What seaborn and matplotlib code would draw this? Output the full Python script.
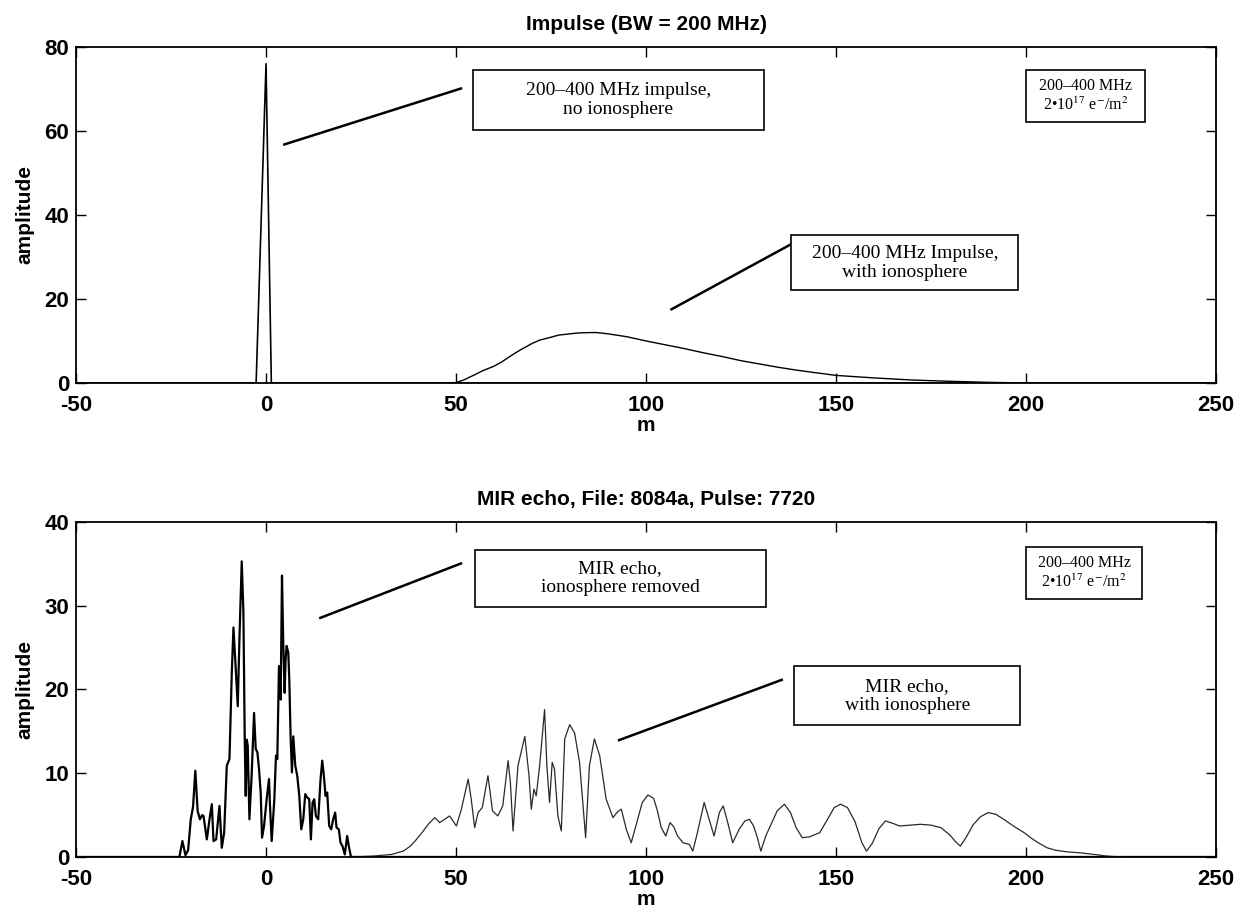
import matplotlib
matplotlib.use("Agg")
import matplotlib.pyplot as plt
import seaborn as sns
from matplotlib.patches import Rectangle

# ---- upper panel: synthetic 200-400 MHz impulse ----
impulse_m = [-50, -2.6, 0, 1.4, 250]
impulse_amp = [0, 0, 76, 0, 0]

iono_m = [48, 50, 52, 55, 57, 60, 62, 65, 67, 70, 72, 75, 77, 80, 82, 85, 87,
          90, 95, 100, 105, 110, 115, 120, 125, 130, 135, 140, 145, 150, 160,
          170, 180, 190, 200, 205]
iono_amp = [0, 0.1, 0.7, 2.0, 2.9, 4.0, 5.0, 6.8, 7.9, 9.4, 10.2, 10.9, 11.4,
            11.7, 11.9, 12.0, 12.0, 11.7, 11.0, 10.0, 9.1, 8.2, 7.2, 6.3, 5.3,
            4.5, 3.7, 3.0, 2.4, 1.8, 1.2, 0.7, 0.4, 0.15, 0, 0]

# ---- lower panel: MIR echo ----
removed_m = [-50, -22.8, -22.0, -21.2, -20.5, -19.8, -19.2, -18.6, -18.0, -17.4,
             -16.8, -16.45, -15.57, -14.87, -14.26, -13.82, -13.12, -12.25,
             -11.64, -11.02, -10.32, -9.62, -9.01, -8.57, -7.96, -7.44, -7.0,
             -6.39, -5.95, -5.60, -5.34, -5.07, -4.81, -4.37, -3.76, -3.15,
             -2.71, -2.27, -1.84, -1.40, -1.05, -0.52, 0.17, 0.79, 1.05, 1.49,
             2.19, 2.62, 2.97, 3.41, 3.85, 4.20, 4.55, 4.90, 5.16, 5.42, 5.86,
             6.12, 6.47, 6.82, 7.17, 7.70, 8.22, 8.75, 9.27, 9.80, 10.32, 10.85,
             11.37, 11.81, 12.25, 12.69, 13.12, 13.74, 14.35, 14.79, 15.22,
             15.66, 16.10, 16.62, 17.15, 17.67, 18.20, 18.55, 19.16, 19.60,
             20.12, 20.73, 21.35, 21.78, 22.31, 22.66, 250]
removed_amp = [0, 0, 1.9, 0.2, 0.8, 4.5, 6.0, 10.3, 5.5, 4.5,
               5.0, 4.9, 2.1, 4.5, 6.3, 1.9, 2.1, 6.1,
               1.1, 2.9, 10.9, 11.7, 22.0, 27.4, 22.4, 18.0, 26.0,
               35.3, 29.2, 14.0, 7.3, 14.0, 13.3, 4.5, 10.0, 17.2,
               12.9, 12.5, 10.5, 7.7, 2.3, 3.7, 6.9, 9.3, 6.1, 1.9,
               6.9, 12.1, 11.7, 22.8, 18.8, 33.6, 25.2, 19.6, 23.6, 25.2, 24.4,
               21.2, 14.4, 10.1, 14.4, 10.9, 9.7, 7.3, 3.3, 4.5, 7.5, 7.1,
               6.9, 2.1, 6.5, 6.9, 4.9, 4.5, 9.3, 11.5, 9.7,
               7.3, 7.7, 3.7, 3.3, 4.5, 5.3, 3.5, 3.3, 1.7,
               1.3, 0.3, 2.5, 1.3, 0.1, 0, 0]

echo_m = [22.7, 28.0, 33.0, 36.1, 38.0, 39.6, 41.2, 42.7, 44.4, 45.7, 47.0,
          48.3, 50.1, 51.4, 53.2, 54.0, 54.9, 55.8, 56.9, 58.4, 59.6, 61.0,
          62.3, 63.7, 64.3, 65.0, 66.3, 68.1, 69.2, 69.8, 70.5, 71.1, 72.0,
          73.3, 73.9, 74.6, 75.3, 75.9, 76.8, 77.7, 78.6, 79.9, 81.2, 82.5,
          84.1, 85.1, 86.4, 87.8, 89.5, 91.3, 92.5, 93.5, 94.8, 96.1, 97.5,
          99.0, 100.5, 102.0, 103.0, 104.0, 105.2, 106.3, 107.3, 108.3, 109.7,
          111.4, 112.3, 113.3, 114.3, 115.3, 116.6, 117.9, 119.3, 120.3,
          121.5, 122.8, 124.5, 126.0, 127.2, 128.3, 129.3, 130.2, 131.5,
          133.0, 134.5, 136.4, 138.0, 139.5, 141.1, 143.0, 145.7, 147.5,
          149.5, 151.2, 153.0, 155.0, 156.8, 158.0, 159.5, 161.3, 163.0,
          165.0, 166.7, 169.5, 172.2, 175.0, 177.6, 180.0, 181.5, 182.7,
          184.3, 186.0, 188.0, 190.0, 192.0, 194.1, 197.0, 199.5, 201.5,
          203.2, 205.5, 207.8, 211.0, 214.1, 218.0, 221.4, 225.0]
echo_amp = [0, 0.1, 0.3, 0.7, 1.3, 2.1, 3.0, 3.9, 4.7, 4.1, 4.5,
            4.9, 3.7, 5.7, 9.3, 6.9, 3.5, 5.3, 5.9, 9.7, 5.5, 4.9,
            6.1, 11.5, 8.9, 3.1, 10.9, 14.4, 9.7, 5.7, 8.1, 7.3, 10.9,
            17.6, 10.9, 6.5, 11.3, 10.5, 4.9, 3.1, 14.1, 15.8, 14.8, 11.3,
            2.3, 10.9, 14.1, 12.1, 6.9, 4.7, 5.4, 5.7, 3.3, 1.7, 4.0,
            6.5, 7.4, 7.0, 5.5, 3.5, 2.5, 4.1, 3.6, 2.5, 1.7,
            1.5, 0.7, 2.5, 4.5, 6.5, 4.5, 2.5, 5.3, 6.1,
            4.1, 1.7, 3.3, 4.3, 4.5, 3.7, 2.3, 0.7, 2.5,
            4.0, 5.5, 6.3, 5.3, 3.5, 2.3, 2.4, 2.9, 4.3,
            5.9, 6.3, 5.9, 4.2, 1.7, 0.7, 1.6, 3.4, 4.3,
            4.0, 3.7, 3.8, 3.9, 3.8, 3.5, 2.6, 1.8, 1.3,
            2.4, 3.8, 4.8, 5.3, 5.1, 4.5, 3.6, 2.9, 2.2,
            1.7, 1.1, 0.8, 0.6, 0.5, 0.3, 0.1, 0]

x_ticks = [-50, 0, 50, 100, 150, 200, 250]
top_y_ticks = [0, 20, 40, 60, 80]
bottom_y_ticks = [0, 10, 20, 30, 40]

top_title = "Impulse (BW = 200 MHz)"
bottom_title = "MIR echo, File: 8084a, Pulse: 7720"
band_note = "200\u2013400 MHz\n2\u202210$^{17}$ e$^{-}$/m$^{2}$"

sns.set_theme(style="ticks")
plt.rcParams["font.family"] = ["Liberation Sans", "DejaVu Sans"]
plt.rcParams["mathtext.fontset"] = "stix"
plt.rcParams["axes.unicode_minus"] = False
plt.rcParams["axes.linewidth"] = 1.3
for key in ("text.color", "axes.labelcolor", "xtick.color", "ytick.color",
            "axes.edgecolor"):
    plt.rcParams[key] = "black"

fig = plt.figure(figsize=(12.46, 9.14), dpi=100)
ax1 = fig.add_axes([0.061, 0.581, 0.915, 0.3676])
ax2 = fig.add_axes([0.061, 0.0624, 0.915, 0.3665])

sns.lineplot(x=impulse_m, y=impulse_amp, ax=ax1, color="black", lw=1.2,
             estimator=None, sort=False)
sns.lineplot(x=iono_m, y=iono_amp, ax=ax1, color="black", lw=1.0,
             estimator=None, sort=False)
sns.lineplot(x=removed_m, y=removed_amp, ax=ax2, color="black", lw=1.6,
             estimator=None, sort=False)
sns.lineplot(x=echo_m, y=echo_amp, ax=ax2, color="#2a2a2a", lw=0.9,
             estimator=None, sort=False)

SERIF = ["Liberation Serif", "DejaVu Serif"]


def note_box(ax, x0, x1, y0, y1, text, size, spacing=1.15):
    ax.add_patch(Rectangle((x0, y0), x1 - x0, y1 - y0, facecolor="white",
                           edgecolor="black", lw=1.2, zorder=3))
    ax.text((x0 + x1) / 2, (y0 + y1) / 2, text, ha="center", va="center",
            family=SERIF, fontsize=size, linespacing=spacing, zorder=4,
            color="black")


def leader(ax, p0, p1):
    ax.plot([p0[0], p1[0]], [p0[1], p1[1]], color="black", lw=1.8,
            solid_capstyle="butt", zorder=2)


# upper panel annotations
note_box(ax1, 54.4, 131.0, 60.2, 74.5,
         "200\u2013400 MHz impulse,\nno ionosphere", 14)
leader(ax1, (4.5, 56.7), (51.6, 70.2))
note_box(ax1, 138.2, 198.0, 22.1, 35.2,
         "200\u2013400 MHz Impulse,\nwith ionosphere", 14)
leader(ax1, (106.4, 17.4), (138.7, 33.3))
note_box(ax1, 200.0, 231.4, 62.1, 74.5, band_note, 11.5, 1.25)

# lower panel annotations
note_box(ax2, 54.9, 131.5, 29.8, 36.7,
         "MIR echo,\nionosphere removed", 14)
leader(ax2, (14.0, 28.5), (51.6, 35.1))
note_box(ax2, 138.9, 198.5, 15.7, 22.8,
         "MIR echo,\nwith ionosphere", 14)
leader(ax2, (92.6, 13.9), (136.0, 21.2))
note_box(ax2, 200.0, 230.5, 30.8, 37.0, band_note, 11.5, 1.25)

for ax, yt, title in ((ax1, top_y_ticks, top_title),
                      (ax2, bottom_y_ticks, bottom_title)):
    ax.set_xlim(x_ticks[0], x_ticks[-1])
    ax.set_ylim(yt[0], yt[-1])
    ax.set_xticks(x_ticks)
    ax.set_yticks(yt)
    ax.tick_params(axis="both", which="both", direction="in", length=7,
                   width=1.0, top=True, right=True, labelsize=16,
                   colors="black")
    ax.tick_params(axis="x", pad=9)
    ax.tick_params(axis="y", pad=5)
    for lab in ax.get_xticklabels() + ax.get_yticklabels():
        lab.set_fontweight("bold")
    for sp in ax.spines.values():
        sp.set_visible(True)
        sp.set_color("black")
    ax.set_xlabel("m", fontsize=15, fontweight="bold", labelpad=0)
    ax.set_ylabel("amplitude", fontsize=15, fontweight="bold", labelpad=7)
    ax.set_title(title, fontsize=15, fontweight="bold", pad=12)
    ax.set_facecolor("white")

fig.savefig("out.png", dpi=100, facecolor="white")
